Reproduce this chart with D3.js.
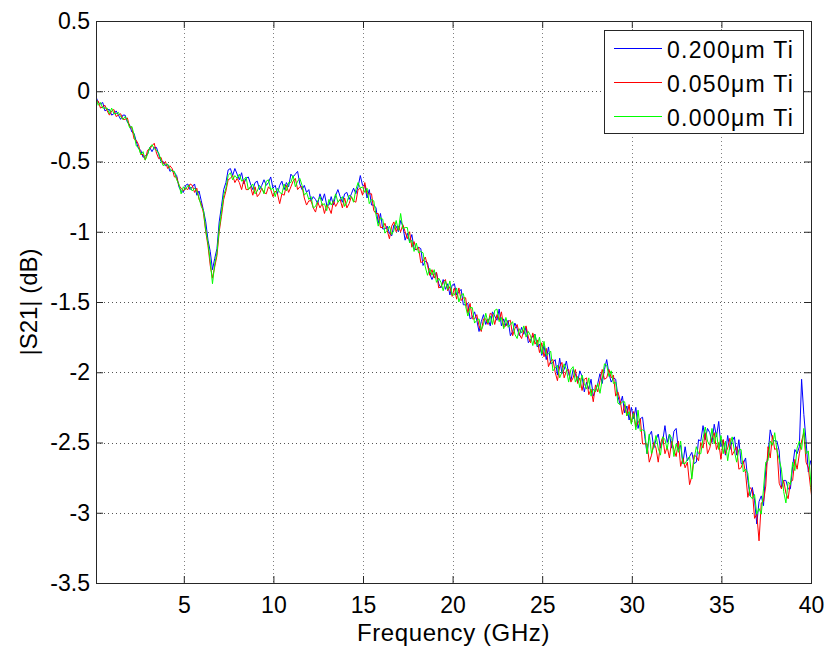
<!DOCTYPE html>
<html>
<head>
<meta charset="utf-8">
<script src="https://cdn.jsdelivr.net/npm/d3@7/dist/d3.min.js"></script>
<style>
  html, body { margin: 0; padding: 0; background: #fff; }
  svg { display: block; }
  text { font-family: "Liberation Sans", Arial, Helvetica, sans-serif; fill: #000; }
</style>
</head>
<body>
<svg id="chart" width="827" height="650"></svg>
<script>
// ---- data ----
const freqStart = 0.1;    // GHz, first sweep point
const freqStep = 0.125;   // GHz, sweep step
const seriesNames = ["0.200\u03BCm Ti", "0.050\u03BCm Ti", "0.000\u03BCm Ti"];
const seriesColors = ["#0000ff", "#ff0000", "#00ff00"];
const xTicks = [5, 10, 15, 20, 25, 30, 35, 40];
const yTicks = [0.5, 0, -0.5, -1, -1.5, -2, -2.5, -3, -3.5];

// |S21| in dB, 0.200 um Ti
const ti200 = [
  -0.04, -0.08, -0.09, -0.08, -0.14, -0.13, -0.13, -0.17, -0.16, -0.14, -0.17, -0.20, -0.17, -0.17, -0.22, -0.24, -0.29, -0.30, -0.36, -0.41,
  -0.42, -0.47, -0.46, -0.45, -0.40, -0.43, -0.40, -0.40, -0.45, -0.50, -0.50, -0.53, -0.52, -0.57, -0.56, -0.58, -0.60, -0.68, -0.71, -0.72,
  -0.67, -0.66, -0.70, -0.68, -0.66, -0.74, -0.71, -0.78, -0.85, -0.93, -1.06, -1.14, -1.27, -1.19, -1.12, -0.93, -0.82, -0.70, -0.65, -0.56,
  -0.55, -0.60, -0.55, -0.59,
  -0.63, -0.58, -0.66, -0.62, -0.61, -0.66, -0.70, -0.65, -0.64, -0.70, -0.67, -0.63, -0.67, -0.65, -0.61, -0.69, -0.67, -0.73, -0.67, -0.64,
  -0.70, -0.65, -0.68, -0.59, -0.61, -0.59, -0.57, -0.66, -0.70, -0.67, -0.72, -0.70, -0.78, -0.75, -0.77, -0.80, -0.73, -0.78, -0.73, -0.81,
  -0.81, -0.75, -0.81, -0.74, -0.70, -0.75, -0.79, -0.73, -0.72, -0.77, -0.73, -0.69, -0.73, -0.68, -0.60, -0.67,
  -0.67, -0.76, -0.70, -0.81, -0.81, -0.83, -0.94, -0.87, -0.98, -0.98, -0.96, -1.01, -1.03, -0.95, -0.96, -1.00, -0.92, -0.96, -1.06, -1.01,
  -1.07, -1.02, -1.12, -1.13, -1.11, -1.12, -1.24, -1.21, -1.22, -1.30, -1.34, -1.30, -1.29, -1.37, -1.40, -1.34, -1.41, -1.37, -1.45, -1.38,
  -1.37, -1.45, -1.43, -1.41, -1.52, -1.52, -1.51, -1.62, -1.61, -1.57, -1.63, -1.71, -1.64, -1.59, -1.66, -1.62, -1.67, -1.57, -1.60, -1.63,
  -1.55, -1.67, -1.62, -1.67, -1.63, -1.74, -1.71, -1.65, -1.69, -1.74, -1.68, -1.73, -1.68, -1.79, -1.77, -1.74, -1.73, -1.82, -1.80, -1.88,
  -1.81, -1.91, -1.82, -1.94, -1.93, -1.91, -2.02, -1.90, -2.01, -1.98, -1.92, -2.01, -2.06, -1.98, -2.01, -2.07, -1.99, -2.03, -2.14, -2.07,
  -2.12, -2.05, -2.17, -2.13, -2.08, -2.01, -2.08, -1.98, -1.91, -2.01, -2.07, -2.04, -2.05, -2.17, -2.23, -2.17, -2.29, -2.24, -2.34, -2.25,
  -2.33, -2.25, -2.40, -2.33, -2.32, -2.46, -2.58, -2.45, -2.42, -2.54, -2.48, -2.44, -2.54, -2.49, -2.38, -2.50, -2.44, -2.54, -2.42, -2.40,
  -2.55, -2.52, -2.65, -2.53, -2.63, -2.60, -2.57, -2.65, -2.64, -2.48, -2.49, -2.38, -2.48, -2.40, -2.43, -2.50, -2.37, -2.46, -2.35, -2.53,
  -2.48, -2.59, -2.45, -2.55, -2.49, -2.46, -2.59, -2.48, -2.65, -2.65, -2.61, -2.77, -2.88, -2.82, -2.91, -3.08, -2.92, -2.88, -2.95, -2.69,
  -2.59, -2.41, -2.47, -2.49, -2.49, -2.56, -2.82, -2.77, -2.77, -2.83, -2.83, -2.67, -2.55, -2.58, -2.53, -2.05, -2.30, -2.49, -2.71, -2.63,
  -2.70
];
// |S21| in dB, 0.050 um Ti
const ti050 = [
  -0.07, -0.07, -0.12, -0.11, -0.10, -0.14, -0.17, -0.14, -0.13, -0.18, -0.17, -0.16, -0.20, -0.20, -0.19, -0.25, -0.26, -0.34, -0.35, -0.38,
  -0.45, -0.45, -0.49, -0.42, -0.41, -0.39, -0.37, -0.44, -0.48, -0.47, -0.52, -0.50, -0.55, -0.53, -0.55, -0.61, -0.61, -0.67, -0.69, -0.71,
  -0.69, -0.70, -0.66, -0.67, -0.72, -0.69, -0.77, -0.80, -0.87, -1.00, -1.10, -1.24, -1.33, -1.25, -1.17, -1.00, -0.89, -0.77, -0.71, -0.63,
  -0.62, -0.60, -0.65, -0.62,
  -0.65, -0.70, -0.63, -0.70, -0.70, -0.68, -0.74, -0.68, -0.75, -0.73, -0.69, -0.72, -0.73, -0.68, -0.70, -0.75, -0.71, -0.73, -0.80, -0.73,
  -0.74, -0.67, -0.72, -0.68, -0.64, -0.62, -0.70, -0.68, -0.68, -0.76, -0.81, -0.78, -0.78, -0.83, -0.86, -0.79, -0.83, -0.80, -0.87, -0.81,
  -0.83, -0.87, -0.78, -0.82, -0.79, -0.77, -0.83, -0.76, -0.83, -0.80, -0.75, -0.78, -0.79, -0.70, -0.69, -0.74,
  -0.65, -0.73, -0.73, -0.73, -0.85, -0.87, -0.87, -0.97, -0.97, -0.94, -0.99, -1.05, -0.96, -0.93, -1.00, -0.96, -1.00, -0.95, -1.00, -1.05,
  -1.00, -1.11, -1.07, -1.13, -1.11, -1.22, -1.21, -1.18, -1.24, -1.31, -1.27, -1.33, -1.29, -1.40, -1.39, -1.36, -1.34, -1.42, -1.39, -1.46,
  -1.40, -1.48, -1.40, -1.49, -1.47, -1.47, -1.58, -1.51, -1.62, -1.62, -1.59, -1.67, -1.71, -1.62, -1.62, -1.66, -1.58, -1.59, -1.66, -1.59,
  -1.63, -1.57, -1.68, -1.67, -1.64, -1.63, -1.74, -1.69, -1.66, -1.73, -1.76, -1.70, -1.67, -1.75, -1.79, -1.72, -1.80, -1.77, -1.86, -1.79,
  -1.89, -1.83, -1.96, -1.92, -1.91, -2.00, -2.06, -1.96, -1.93, -2.04, -1.99, -1.98, -2.07, -2.04, -1.98, -2.08, -2.04, -2.13, -2.05, -2.04,
  -2.16, -2.12, -2.21, -2.09, -2.14, -2.06, -1.98, -2.05, -2.04, -1.98, -2.04, -2.02, -2.17, -2.14, -2.20, -2.30, -2.23, -2.31, -2.23, -2.36,
  -2.28, -2.39, -2.36, -2.33, -2.51, -2.51, -2.51, -2.64, -2.59, -2.50, -2.54, -2.64, -2.51, -2.46, -2.58, -2.53, -2.61, -2.49, -2.55, -2.60,
  -2.49, -2.67, -2.61, -2.68, -2.64, -2.80, -2.74, -2.59, -2.60, -2.63, -2.50, -2.54, -2.43, -2.58, -2.54, -2.47, -2.43, -2.55, -2.50, -2.62,
  -2.48, -2.58, -2.54, -2.47, -2.59, -2.56, -2.53, -2.69, -2.68, -2.63, -2.72, -2.89, -2.82, -2.84, -3.04, -3.01, -3.20, -2.93, -2.92, -2.81,
  -2.53, -2.61, -2.45, -2.55, -2.54, -2.79, -2.83, -2.77, -2.86, -2.90, -2.78, -2.77, -2.62, -2.69, -2.58, -2.49, -2.43, -2.64, -2.68, -2.82,
  -2.95
];
// |S21| in dB, 0.000 um Ti
const ti000 = [
  -0.05, -0.10, -0.08, -0.12, -0.12, -0.12, -0.16, -0.12, -0.16, -0.16, -0.15, -0.18, -0.20, -0.18, -0.21, -0.26, -0.25, -0.31, -0.39, -0.40,
  -0.45, -0.43, -0.49, -0.45, -0.40, -0.38, -0.41, -0.42, -0.44, -0.49, -0.53, -0.52, -0.52, -0.55, -0.57, -0.57, -0.63, -0.66, -0.73, -0.68,
  -0.70, -0.67, -0.68, -0.71, -0.69, -0.71, -0.76, -0.82, -0.85, -0.99, -1.08, -1.21, -1.37, -1.23, -1.15, -0.98, -0.86, -0.74, -0.69, -0.60,
  -0.58, -0.63, -0.60, -0.62,
  -0.59, -0.64, -0.63, -0.61, -0.70, -0.68, -0.66, -0.73, -0.71, -0.67, -0.69, -0.73, -0.64, -0.63, -0.70, -0.69, -0.75, -0.69, -0.72, -0.73,
  -0.66, -0.71, -0.65, -0.65, -0.60, -0.68, -0.64, -0.62, -0.67, -0.74, -0.72, -0.77, -0.75, -0.83, -0.82, -0.78, -0.75, -0.81, -0.80, -0.85,
  -0.77, -0.81, -0.78, -0.73, -0.79, -0.77, -0.75, -0.82, -0.79, -0.74, -0.75, -0.79, -0.70, -0.65, -0.69, -0.68,
  -0.72, -0.69, -0.80, -0.77, -0.78, -0.88, -0.96, -0.90, -0.91, -1.01, -0.99, -0.96, -1.02, -0.99, -0.92, -0.99, -0.87, -0.98, -0.97, -0.97,
  -1.08, -1.06, -1.14, -1.08, -1.15, -1.14, -1.15, -1.25, -1.31, -1.26, -1.31, -1.27, -1.36, -1.33, -1.36, -1.42, -1.35, -1.41, -1.35, -1.45,
  -1.45, -1.40, -1.50, -1.45, -1.44, -1.53, -1.60, -1.54, -1.54, -1.65, -1.63, -1.62, -1.70, -1.66, -1.58, -1.65, -1.60, -1.66, -1.56, -1.55,
  -1.64, -1.61, -1.69, -1.61, -1.68, -1.66, -1.64, -1.73, -1.76, -1.69, -1.72, -1.67, -1.75, -1.71, -1.74, -1.81, -1.73, -1.81, -1.75, -1.87,
  -1.78, -1.88, -1.87, -1.85, -1.99, -1.97, -1.95, -2.04, -2.00, -1.94, -1.98, -2.07, -1.98, -1.96, -2.07, -2.03, -2.11, -2.02, -2.08, -2.12,
  -2.04, -2.17, -2.12, -2.14, -2.08, -2.15, -2.05, -1.94, -1.95, -2.03, -1.99, -2.08, -2.07, -2.22, -2.23, -2.21, -2.21, -2.31, -2.28, -2.37,
  -2.29, -2.41, -2.27, -2.42, -2.41, -2.42, -2.58, -2.44, -2.58, -2.53, -2.45, -2.54, -2.59, -2.46, -2.48, -2.55, -2.44, -2.47, -2.60, -2.51,
  -2.57, -2.49, -2.65, -2.65, -2.62, -2.60, -2.76, -2.62, -2.53, -2.58, -2.58, -2.47, -2.39, -2.49, -2.52, -2.40, -2.51, -2.43, -2.55, -2.45,
  -2.58, -2.49, -2.63, -2.52, -2.46, -2.56, -2.64, -2.55, -2.55, -2.71, -2.69, -2.72, -2.88, -2.90, -2.87, -3.01, -2.97, -3.01, -2.83, -2.64,
  -2.63, -2.49, -2.52, -2.43, -2.56, -2.62, -2.69, -2.85, -2.93, -2.78, -2.80, -2.64, -2.70, -2.54, -2.49, -2.55, -2.40, -2.58, -2.56, -2.76,
  -3.00
];
const seriesValues = [ti200, ti050, ti000];

// ---- layout ----
const W = 827, H = 650;
const margin = { left: 96, top: 21, right: 16, bottom: 67 };
const pw = W - margin.left - margin.right;
const ph = H - margin.top - margin.bottom;

const svg = d3.select("#chart");
const g = svg.append("g").attr("transform", `translate(${margin.left},${margin.top})`);

const x = d3.scaleLinear().domain([0.1, 40]).range([0, pw]);
const y = d3.scaleLinear().domain([-3.5, 0.5]).range([ph, 0]);

// grid
g.append("g").selectAll("line").data(xTicks.filter(t => t < 40)).join("line")
  .attr("x1", d => Math.round(x(d)) + 0.5).attr("x2", d => Math.round(x(d)) + 0.5)
  .attr("y1", 0).attr("y2", ph)
  .attr("stroke", "#808080").attr("stroke-width", 1).attr("stroke-dasharray", "1,3");
g.append("g").selectAll("line").data(yTicks.filter(t => t < 0.5 && t > -3.5)).join("line")
  .attr("y1", d => Math.round(y(d)) + 0.5).attr("y2", d => Math.round(y(d)) + 0.5)
  .attr("x1", 0).attr("x2", pw)
  .attr("stroke", "#555").attr("stroke-width", 1).attr("stroke-dasharray", "1,3");

// lines
g.append("clipPath").attr("id", "clip").append("rect").attr("width", pw).attr("height", ph);
const line = d3.line().x((d, i) => x(freqStart + i * freqStep)).y(d => y(d));
const lg = g.append("g").attr("clip-path", "url(#clip)");
seriesValues.forEach((vals, si) => {
  lg.append("path").datum(vals).attr("d", line)
    .attr("fill", "none").attr("stroke", seriesColors[si]).attr("stroke-width", 1)
    .attr("stroke-linejoin", "miter");
});

// axes
const tickLen = 7;
const tickFont = 23;
const labelFont = 24;
const xAxis = d3.axisBottom(x).tickValues(xTicks).tickSizeInner(-tickLen).tickSizeOuter(0).tickPadding(14).tickFormat(d => String(d));
const yAxis = d3.axisLeft(y).tickValues(yTicks).tickSizeInner(-tickLen).tickSizeOuter(0).tickPadding(6).tickFormat(d => String(d));
const xa = g.append("g").attr("transform", `translate(0,${ph})`).call(xAxis);
const ya = g.append("g").call(yAxis);
const xaTop = g.append("g").call(d3.axisTop(x).tickValues(xTicks).tickSizeInner(-tickLen).tickSizeOuter(0).tickFormat(""));
const yaRight = g.append("g").attr("transform", `translate(${pw},0)`).call(d3.axisRight(y).tickValues(yTicks).tickSizeInner(-tickLen).tickSizeOuter(0).tickFormat(""));
[xa, ya, xaTop, yaRight].forEach(a => {
  a.select(".domain").remove();
  a.selectAll("line").attr("stroke", "#262626");
  a.selectAll("text").attr("font-size", tickFont).attr("font-family", "Liberation Sans, Arial, sans-serif").attr("fill", "#000");
});
// box
g.append("rect").attr("x", 0.5).attr("y", 0.5).attr("width", pw).attr("height", ph)
  .attr("fill", "none").attr("stroke", "#262626").attr("stroke-width", 1);

// axis labels
svg.append("text").attr("x", margin.left + pw / 2).attr("y", 641).attr("text-anchor", "middle")
  .attr("font-size", labelFont).attr("letter-spacing", "0.6px").text("Frequency (GHz)");
svg.append("text").attr("transform", `translate(37,${margin.top + ph / 2}) rotate(-90)`)
  .attr("text-anchor", "middle").attr("font-size", labelFont).text("|S21| (dB)");

// legend
const leg = svg.append("g").attr("transform", "translate(604,30)");
leg.append("rect").attr("x", 0.5).attr("y", 0.5).attr("width", 199).attr("height", 103)
  .attr("fill", "#fff").attr("stroke", "#262626").attr("stroke-width", 1);
seriesNames.forEach((name, i) => {
  const cy = 18 + i * 34;
  leg.append("line").attr("x1", 10).attr("x2", 58).attr("y1", cy + 0.5).attr("y2", cy + 0.5)
    .attr("stroke", seriesColors[i]).attr("stroke-width", 1);
  leg.append("text").attr("x", 63).attr("y", cy + 10).attr("font-size", 23).attr("letter-spacing", "1.3px").text(name);
});
</script>
</body>
</html>
